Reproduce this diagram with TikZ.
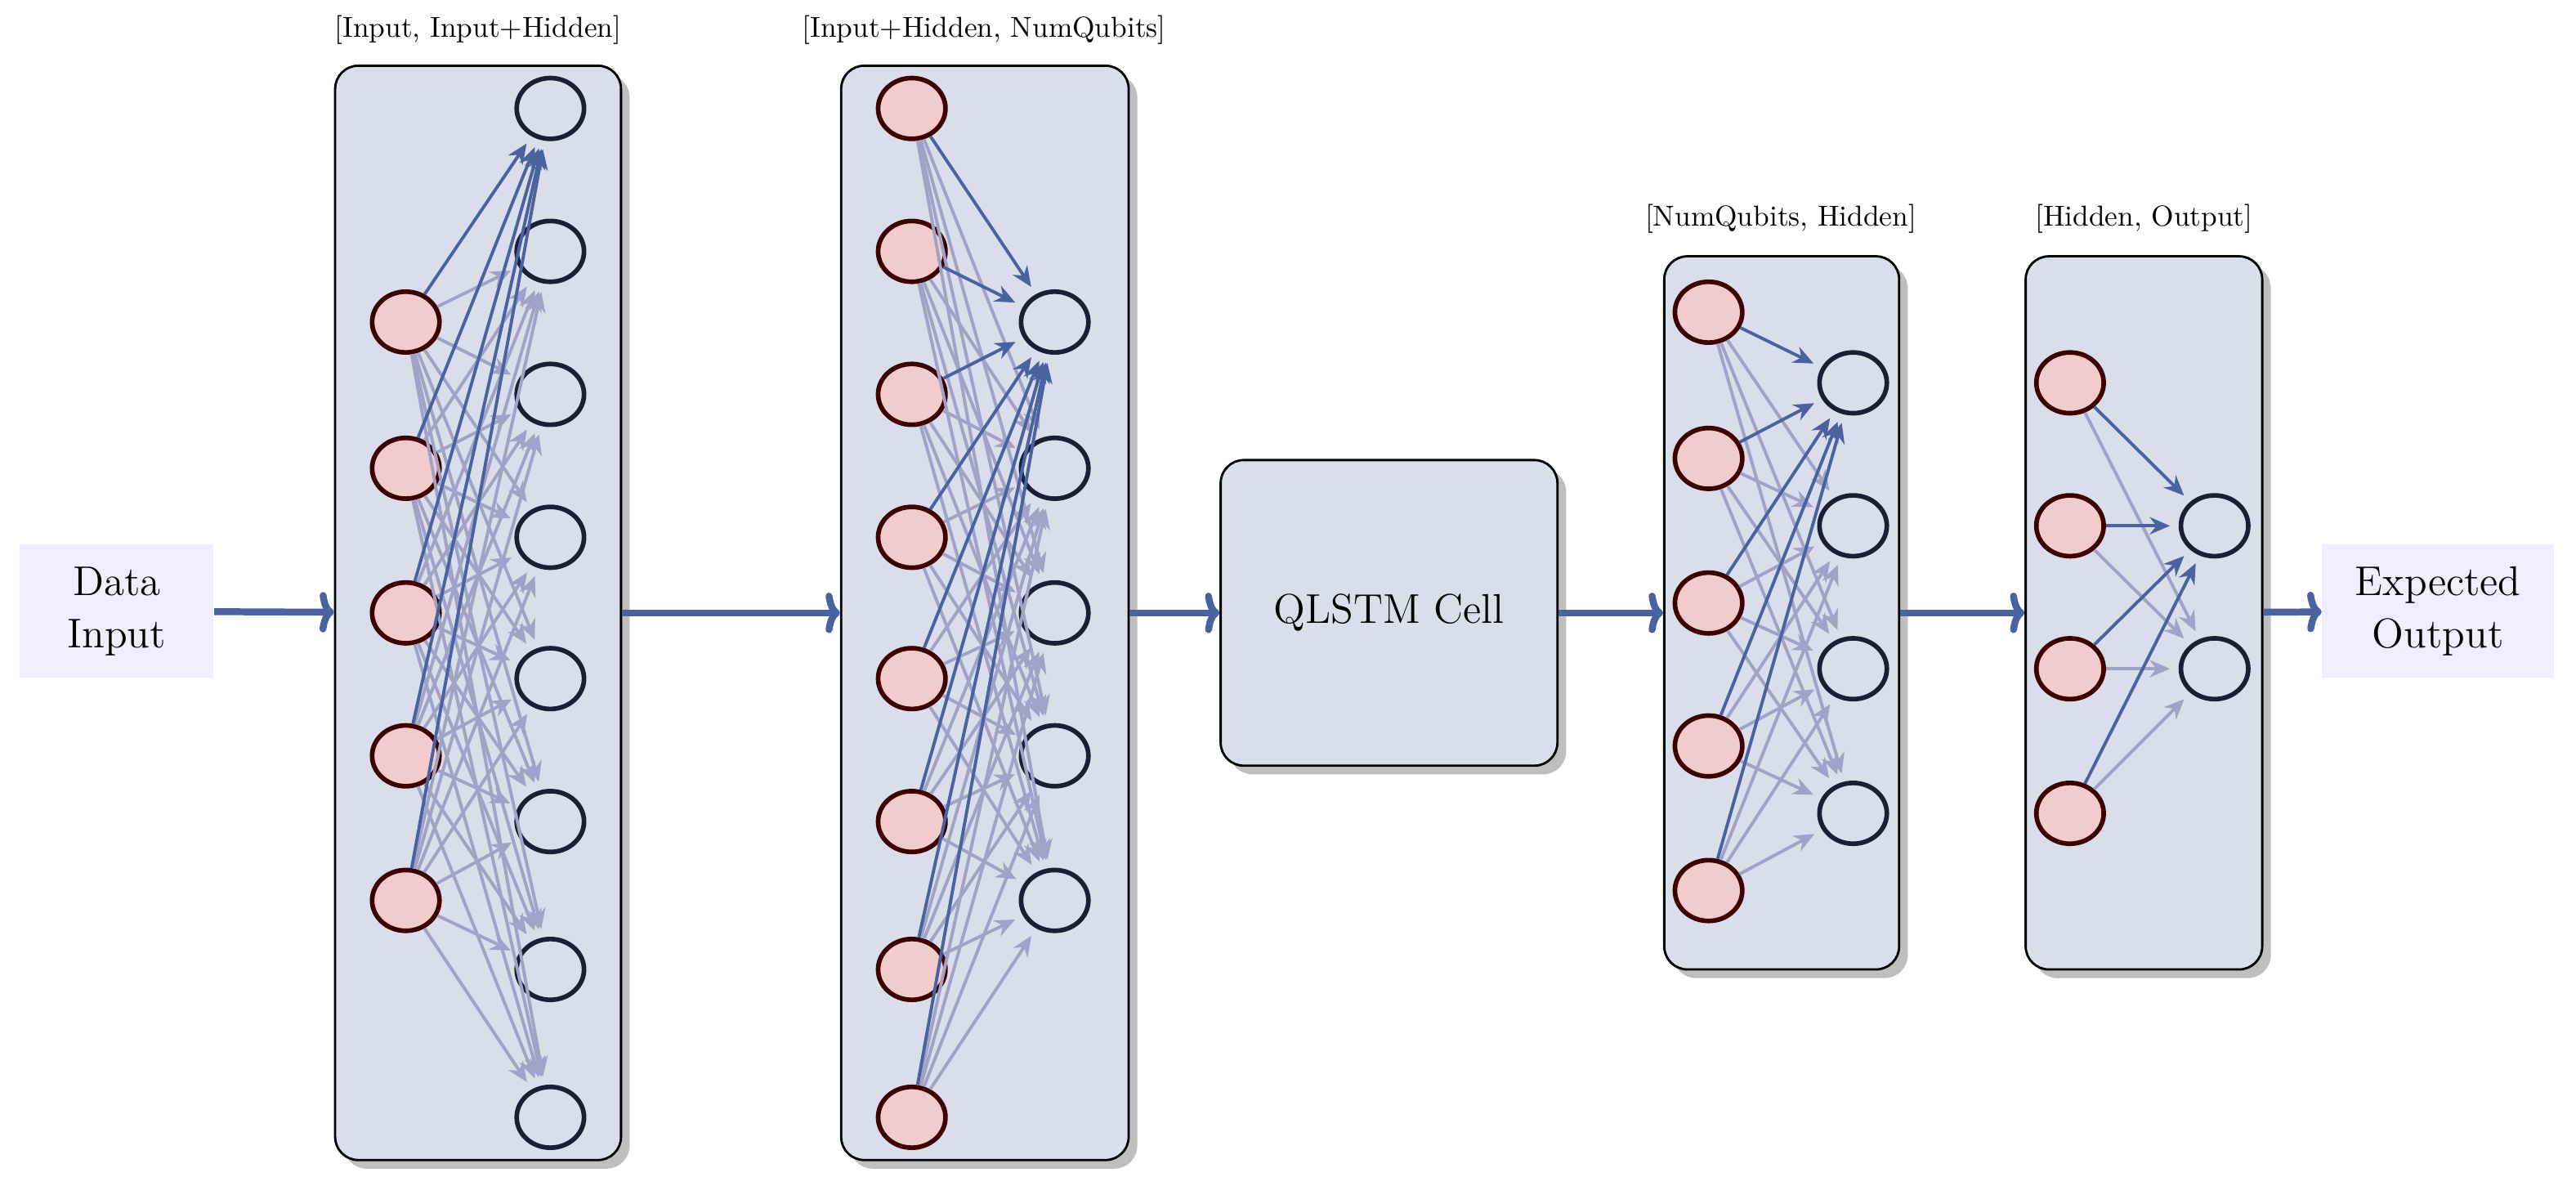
\documentclass[tikz,border=0pt]{standalone}
\usetikzlibrary{arrows.meta,shapes.geometric,shadows}
\definecolor{boxfill}{HTML}{DADEEA}
\definecolor{infill}{HTML}{F2CCCC}
\definecolor{indraw}{HTML}{3D0000}
\definecolor{outdraw}{HTML}{1A1F33}
\definecolor{strong}{HTML}{4A62A0}
\definecolor{weak}{HTML}{A0A2C6}
\definecolor{iofill}{HTML}{EEEEFF}
\tikzset{
  layer/.style={draw=black, line width=0.8pt, fill=boxfill, rounded corners=8pt,
    drop shadow={shadow xshift=3pt, shadow yshift=-3pt, fill=black!25, opacity=1}},
  inneuron/.style={ellipse, draw=indraw, fill=infill, line width=1.6pt,
    minimum width=0.82cm, minimum height=0.74cm, inner sep=0pt},
  outneuron/.style={ellipse, draw=outdraw, fill=boxfill, line width=1.6pt,
    minimum width=0.82cm, minimum height=0.74cm, inner sep=0pt},
  weight/.style={-{Stealth[length=7pt,width=6pt]}, line width=1.1pt, color=weak, shorten >=3pt},
  mainweight/.style={weight, color=strong},
  flow/.style={-{To[length=5pt,width=14pt]}, line width=2.4pt, color=strong},
  io/.style={fill=iofill, align=center, font=\Large, minimum width=2.36cm, minimum height=1.62cm},
  dims/.style={font=\normalsize}
}
\begin{document}
\begin{tikzpicture}[x=0.2mm,y=-0.2mm]
  \useasboundingbox (0,0) rectangle (1568,727);
  % Ein- und Ausgabe
  \node[io] (data) at (71,372) {Data\\Input};
  \node[io,minimum width=2.82cm] (expected) at (1484,372) {Expected\\Output};
  % Schichten
  \node[layer, minimum width=3.48cm, minimum height=13.32cm] (L1) at (291,373) {};
  \node[layer, minimum width=3.5cm, minimum height=13.32cm] (L2) at (599.5,373) {};
  \node[layer, minimum width=4.1cm, minimum height=3.72cm, font=\Large] (cell) at (845.5,373) {QLSTM Cell};
  \node[layer, minimum width=2.86cm, minimum height=8.68cm] (L3) at (1084.5,373) {};
  \node[layer, minimum width=2.88cm, minimum height=8.68cm] (L4) at (1305,373) {};
  \node[dims] (d1) at (291,18) {[Input, Input+Hidden]};
  \node[dims] (d2) at (599,18) {[Input+Hidden, NumQubits]};
  \node[dims] (d3) at (1084,133) {[NumQubits, Hidden]};
  \node[dims] (d4) at (1305,133) {[Hidden, Output]};
  % Neuronen
  \foreach \y [count=\i] in {196,285,373,460,548} {
    \node[inneuron] (a\i) at (247,\y) {};
    \node[outneuron] (d\i) at (642,\y) {};
    \node[inneuron] (e\i) at (1040,{\y-6+(\i-1)*0.0}) {};
  }
  \foreach \y [count=\i] in {66,153,240,327,413,500,590,680} {
    \node[outneuron] (b\i) at (335,\y) {};
    \node[inneuron] (c\i) at (555,\y) {};
  }
  \foreach \y [count=\i] in {233,320,407,495} {
    \node[outneuron] (f\i) at (1128,\y) {};
    \node[inneuron] (g\i) at (1260,\y) {};
  }
  \foreach \y [count=\i] in {320,407} {
    \node[outneuron] (h\i) at (1348,\y) {};
  }
  % Gewichte
  \foreach \i in {1,...,5} \foreach \j in {2,...,8} \draw[weight] (a\i) -- (b\j);
  \foreach \i in {1,...,5} \draw[mainweight] (a\i) -- (b1);
  \foreach \i in {1,...,8} \foreach \j in {2,...,5} \draw[weight] (c\i) -- (d\j);
  \foreach \i in {1,...,8} \draw[mainweight] (c\i) -- (d1);
  \foreach \i in {1,...,5} \foreach \j in {2,...,4} \draw[weight] (e\i) -- (f\j);
  \foreach \i in {1,...,5} \draw[mainweight] (e\i) -- (f1);
  \foreach \i in {1,...,4} \draw[weight] (g\i) -- (h2);
  \foreach \i in {1,...,4} \draw[mainweight] (g\i) -- (h1);
  % Datenfluss
  \draw[flow] (data) -- (L1);
  \draw[flow] (L1) -- (L2);
  \draw[flow] (L2) -- (cell);
  \draw[flow] (cell) -- (L3);
  \draw[flow] (L3) -- (L4);
  \draw[flow] (L4) -- (expected);
\end{tikzpicture}
\end{document}
